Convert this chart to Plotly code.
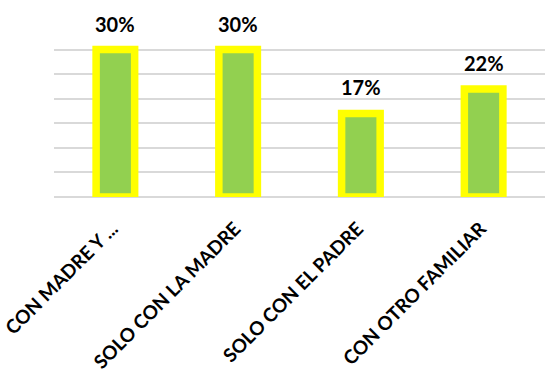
import plotly.graph_objects as go

categories = ["CON MADRE Y ...", "SOLO CON LA MADRE", "SOLO CON EL PADRE", "CON OTRO FAMILIAR"]
values = [30, 30, 17, 22]
value_labels = ["30%", "30%", "17%", "22%"]

fig = go.Figure()
fig.add_trace(go.Bar(
    x=categories, y=values, width=0.314,
    marker=dict(color="#92D050", line=dict(color="#FFFF00", width=7.5)),
    hoverinfo="skip",
))

for c, v, t in zip(categories, values, value_labels):
    fig.add_annotation(x=c, y=v, text=t, showarrow=False, yanchor="middle", yshift=26,
                       font=dict(family="Lato", size=20, color="#000000", weight="bold"))

fig.update_layout(
    width=545, height=377,
    margin=dict(l=54, r=0, t=25, b=180),
    paper_bgcolor="white", plot_bgcolor="white",
    showlegend=False,
    font=dict(family="Lato"),
)
fig.update_yaxes(range=[0, 35], dtick=5, showticklabels=False, showgrid=True,
                 gridcolor="#D9D9D9", gridwidth=1.5, zeroline=True, zerolinecolor="#D9D9D9",
                 zerolinewidth=1.5, fixedrange=True, automargin=False)
fig.update_xaxes(tickangle=-45, showline=False, showgrid=False,
                 tickfont=dict(family="Lato", size=19, color="#000000", weight="bold"),
                 ticks="", ticklabelshift=-3, ticklabelstandoff=16, fixedrange=True,
                 automargin=False)

fig.write_html("out.html")
